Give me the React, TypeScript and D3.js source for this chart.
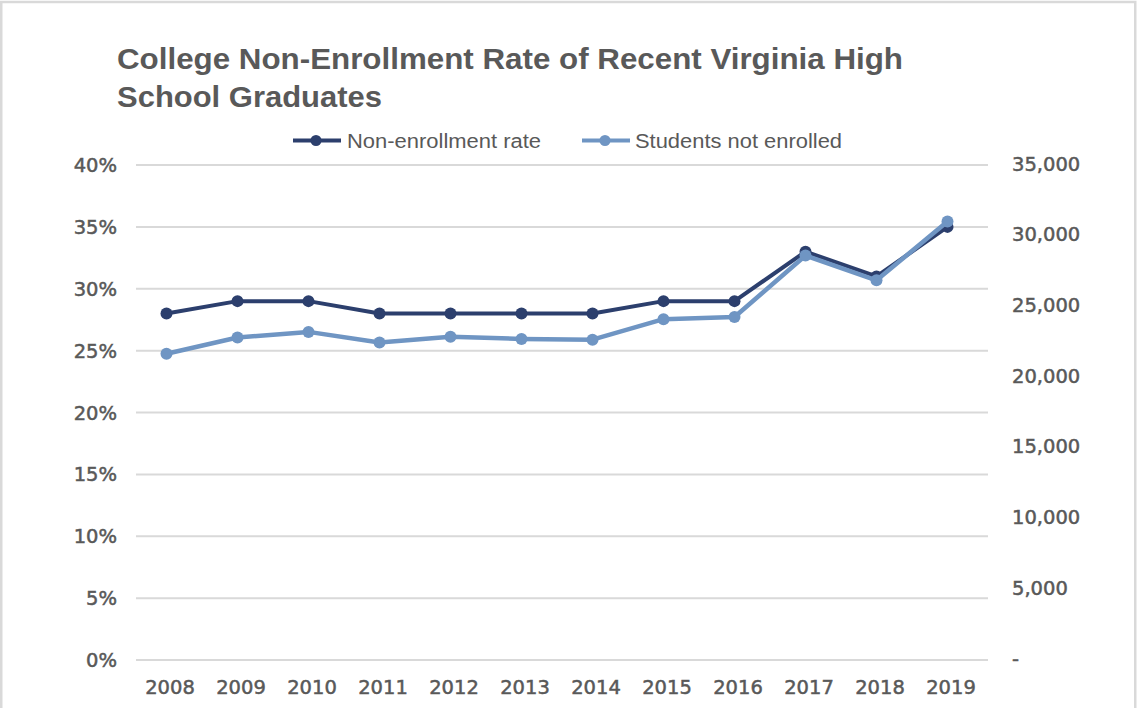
import React from "react";
import * as d3 from "d3";

const years = ["2008", "2009", "2010", "2011", "2012", "2013", "2014", "2015", "2016", "2017", "2018", "2019"];
const nonEnrollmentRate = [0.28, 0.29, 0.29, 0.28, 0.28, 0.28, 0.28, 0.29, 0.29, 0.33, 0.31, 0.35];
const studentsNotEnrolled = [21650, 22800, 23200, 22450, 22850, 22700, 22650, 24100, 24250, 28600, 26850, 31000];
const leftTicks = [0, 0.05, 0.1, 0.15, 0.2, 0.25, 0.3, 0.35, 0.4];
const rightTicks = [0, 5000, 10000, 15000, 20000, 25000, 30000, 35000];
const titleLines = ["College Non-Enrollment Rate of Recent Virginia High", "School Graduates"];
const seriesNames = ["Non-enrollment rate", "Students not enrolled"];

const DARK = "#2C3F6D";
const LIGHT = "#6F95C3";
const TEXT = "#595959";
const GRID = "#D9D9D9";
const AXIS_FONT = "'DejaVu Sans', sans-serif";
const TITLE_FONT = "'Liberation Sans', Arial, sans-serif";

export default function App() {
  const W = 1138, H = 708;
  const x = d3.scalePoint<string>().domain(years).range([166.5, 947.5]);
  const yL = d3.scaleLinear().domain([0, 0.4]).range([660, 165]);
  const yR = d3.scaleLinear().domain([0, 35000]).range([660, 165]);

  const lineL = d3.line<number>().x((_, i) => x(years[i])!).y((d) => yL(d));
  const lineR = d3.line<number>().x((_, i) => x(years[i])!).y((d) => yR(d));

  const pct = d3.format(".0%");
  const num = (v: number) => (v === 0 ? "-" : d3.format(",")(v));

  return (
    <svg width={W} height={H} style={{ position: "absolute", left: 0, top: 0, background: "#fff" }}>
      <rect x={1.25} y={2} width={1134} height={720} fill="#fff" stroke={GRID} strokeWidth={2.5} />

      {/* title */}
      <text x={117} y={69} fill={TEXT} fontFamily={TITLE_FONT} fontWeight="bold" fontSize={29}
        textLength={786} lengthAdjust="spacingAndGlyphs">{titleLines[0]}</text>
      <text x={117} y={107} fill={TEXT} fontFamily={TITLE_FONT} fontWeight="bold" fontSize={29}
        textLength={265} lengthAdjust="spacingAndGlyphs">{titleLines[1]}</text>

      {/* legend */}
      <g>
        <line x1={293} x2={341} y1={140.5} y2={140.5} stroke={DARK} strokeWidth={4} />
        <circle cx={316} cy={140.5} r={5.5} fill={DARK} />
        <text x={347} y={140.5} dy="0.35em" fill={TEXT} fontFamily="'Liberation Sans', Arial, sans-serif" fontSize={20}
          textLength={194} lengthAdjust="spacingAndGlyphs">{seriesNames[0]}</text>
        <line x1={582} x2={630} y1={140.5} y2={140.5} stroke={LIGHT} strokeWidth={4} />
        <circle cx={605} cy={140.5} r={5.5} fill={LIGHT} />
        <text x={635} y={140.5} dy="0.35em" fill={TEXT} fontFamily="'Liberation Sans', Arial, sans-serif" fontSize={20}
          textLength={207} lengthAdjust="spacingAndGlyphs">{seriesNames[1]}</text>
      </g>

      {/* gridlines */}
      {leftTicks.map((t) => (
        <line key={"g" + t} x1={136} x2={988} y1={yL(t)} y2={yL(t)} stroke={GRID} strokeWidth={2} />
      ))}

      {/* left axis labels */}
      {leftTicks.map((t) => (
        <text key={"l" + t} x={117} y={yL(t)} dy="0.36em" textAnchor="end" fill={TEXT} fontFamily={AXIS_FONT}
          fontSize={19.5} stroke={TEXT} strokeWidth={0.5}>{pct(t)}</text>
      ))}

      {/* right axis labels */}
      {rightTicks.map((t) => (
        <text key={"r" + t} x={1012} y={yR(t) - 1.5} dy="0.36em" textAnchor="start" fill={TEXT} fontFamily={AXIS_FONT}
          fontSize={19.5} stroke={TEXT} strokeWidth={0.5}>{num(t)}</text>
      ))}

      {/* x labels */}
      {years.map((yv) => (
        <text key={"x" + yv} x={x(yv)! + 3.5} y={687} dy="0.36em" textAnchor="middle" fill={TEXT} fontFamily={AXIS_FONT}
          fontSize={19.5} stroke={TEXT} strokeWidth={0.5}>{yv}</text>
      ))}

      {/* series */}
      <path d={lineL(nonEnrollmentRate)!} fill="none" stroke={DARK} strokeWidth={4} strokeLinejoin="round" />
      {nonEnrollmentRate.map((v, i) => (
        <circle key={"d" + i} cx={x(years[i])} cy={yL(v)} r={6} fill={DARK} />
      ))}
      <path d={lineR(studentsNotEnrolled)!} fill="none" stroke={LIGHT} strokeWidth={4.5} strokeLinejoin="round" />
      {studentsNotEnrolled.map((v, i) => (
        <circle key={"s" + i} cx={x(years[i])} cy={yR(v)} r={6} fill={LIGHT} />
      ))}
    </svg>
  );
}
